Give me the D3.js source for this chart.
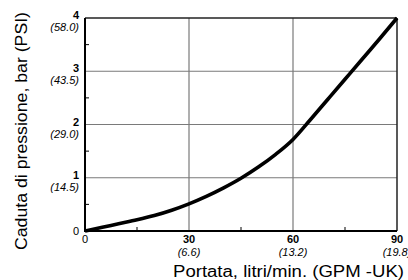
<!DOCTYPE html>
<html>
<head>
<meta charset="utf-8">
<script src="https://cdn.jsdelivr.net/npm/d3@7"></script>
<style>
  body { margin: 0; background: #fff; }
  svg { display: block; font-family: "Liberation Sans", Arial, sans-serif; }
</style>
</head>
<body>
<svg id="chart" width="408" height="280"></svg>
<script>
// flow (l/min) vs pressure drop (bar)
var flow = [0, 5, 10, 15, 20, 25, 30, 35, 40, 45, 50, 55, 60, 65, 70, 75, 80, 85, 90];
var drop = [0, 0.07, 0.14, 0.21, 0.29, 0.39, 0.51, 0.65, 0.81, 0.99, 1.20, 1.44, 1.72, 2.09, 2.47, 2.85, 3.23, 3.61, 4.0];

var xTicks = [30, 60, 90];
var xTickGpm = ["(6.6)", "(13.2)", "(19.8)"];
var yTicks = [1, 2, 3, 4];
var yTickPsi = ["(14.5)", "(29.0)", "(43.5)", "(58.0)"];
var xMinor = [15, 45, 75];
var yMinor = [0.5, 1.5, 2.5, 3.5];

var xTitle = "Portata, litri/min. (GPM -UK)";
var yTitle = "Caduta di pressione, bar (PSI)";

var svg = d3.select("#chart");
var margin = { top: 18, right: 11, bottom: 49, left: 85 };
var W = 408, H = 280;

var x = d3.scaleLinear().domain([0, 90]).range([margin.left, W - margin.right]);
var y = d3.scaleLinear().domain([0, 4]).range([H - margin.bottom, margin.top]);

// grid
var grid = svg.append("g").attr("stroke", "#7a7a7a").attr("stroke-width", 1.2);
grid.selectAll(".gx").data([30, 60]).enter().append("line")
  .attr("x1", d => x(d)).attr("x2", d => x(d))
  .attr("y1", y(0)).attr("y2", y(4));
grid.selectAll(".gy").data([1, 2, 3]).enter().append("line")
  .attr("x1", x(0)).attr("x2", x(90))
  .attr("y1", d => y(d)).attr("y2", d => y(d));

// frame: top & right thin, left & bottom heavier
svg.append("line").attr("x1", x(0)).attr("x2", x(90)).attr("y1", y(4)).attr("y2", y(4))
  .attr("stroke", "#222").attr("stroke-width", 1.5);
svg.append("line").attr("x1", x(90)).attr("x2", x(90)).attr("y1", y(0)).attr("y2", y(4))
  .attr("stroke", "#222").attr("stroke-width", 1.5);
svg.append("line").attr("x1", x(0)).attr("x2", x(0)).attr("y1", y(0) + 1).attr("y2", y(4))
  .attr("stroke", "#000").attr("stroke-width", 2);
svg.append("line").attr("x1", x(0) - 1).attr("x2", x(90)).attr("y1", y(0)).attr("y2", y(0))
  .attr("stroke", "#000").attr("stroke-width", 2);

// minor ticks
svg.selectAll(".mx").data(xMinor).enter().append("line")
  .attr("x1", d => x(d)).attr("x2", d => x(d))
  .attr("y1", y(0)).attr("y2", y(0) - 4)
  .attr("stroke", "#000").attr("stroke-width", 1);
svg.selectAll(".my").data(yMinor).enter().append("line")
  .attr("x1", x(0)).attr("x2", x(0) + 4)
  .attr("y1", d => y(d)).attr("y2", d => y(d))
  .attr("stroke", "#000").attr("stroke-width", 1);

// y tick labels
var yl = svg.append("g").attr("text-anchor", "end").attr("font-size", 11);
yl.selectAll(".yb").data(yTicks).enter().append("text")
  .attr("x", x(0) - 6).attr("y", d => y(d) + 1)
  .attr("font-weight", "bold").text(d => d);
yl.selectAll(".yp").data(yTicks).enter().append("text")
  .attr("x", x(0) - 6).attr("y", d => y(d) + 13)
  .attr("font-style", "italic").text((d, i) => yTickPsi[i]);
yl.append("text").attr("x", x(0) - 6).attr("y", y(0) + 4).text("0");

// x tick labels
var xl = svg.append("g").attr("text-anchor", "middle").attr("font-size", 11);
xl.selectAll(".xb").data(xTicks).enter().append("text")
  .attr("x", d => x(d)).attr("y", y(0) + 12)
  .attr("font-weight", "bold").text(d => d);
xl.selectAll(".xp").data(xTicks).enter().append("text")
  .attr("x", d => x(d)).attr("y", y(0) + 25)
  .attr("font-style", "italic").text((d, i) => xTickGpm[i]);
xl.append("text").attr("x", x(0)).attr("y", y(0) + 12).text("0");

// curve
var line = d3.line()
  .x((d, i) => x(flow[i]))
  .y(d => y(d))
  .curve(d3.curveMonotoneX);
svg.append("path").datum(drop)
  .attr("d", line)
  .attr("fill", "none").attr("stroke", "#000").attr("stroke-width", 3.6)
  .attr("stroke-linejoin", "round");

// axis titles
svg.append("text").attr("x", 173).attr("y", 277)
  .attr("font-size", 16).attr("textLength", 231).attr("lengthAdjust", "spacingAndGlyphs")
  .text(xTitle);
svg.append("text")
  .attr("transform", "translate(27,250) rotate(-90)")
  .attr("font-size", 16).attr("textLength", 238).attr("lengthAdjust", "spacingAndGlyphs")
  .text(yTitle);
</script>
</body>
</html>
